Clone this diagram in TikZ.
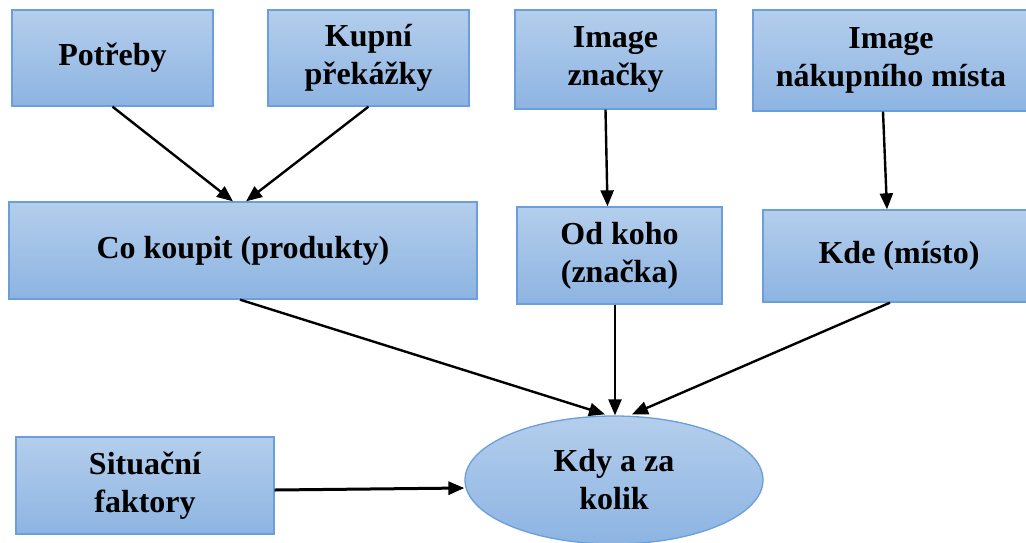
\documentclass[tikz,border=0pt]{standalone}
\usepackage{fontspec}
\setmainfont{Liberation Serif}
\usetikzlibrary{arrows.meta,shapes.geometric}
\definecolor{boxtop}{HTML}{B4CEEC}
\definecolor{boxbot}{HTML}{8DB4E2}
\definecolor{boxline}{HTML}{6A9FDB}
\tikzset{
  box/.style={draw=boxline, line width=1.3pt, top color=boxtop, bottom color=boxbot,
    align=center, inner sep=0pt, font=\fontsize{32}{38}\selectfont\bfseries},
  oval/.style={box, ellipse},
  conn/.style={line width=2.4pt, -{Triangle[length=16pt,width=13pt]}},
}
\begin{document}
\begin{tikzpicture}[x=1pt,y=-1pt]
\useasboundingbox (0,0) rectangle (1026,542);
\clip (0,0) rectangle (1026,542);
\node[box, minimum width=201pt, minimum height=96pt] (pot) at (112.5,58) {Potřeby};
\node[box, minimum width=201pt, minimum height=96pt] (kup) at (368.5,58) {Kupní\\překážky};
\node[box, minimum width=201pt, minimum height=99pt] (imz) at (615.5,59.5) {Image\\značky};
\node[box, minimum width=276pt, minimum height=101pt] (imn) at (891,60.5) {Image\\nákupního místa};
\node[box, minimum width=468pt, minimum height=97pt] (ck) at (243,250.5) {Co koupit (produkty)};
\node[box, minimum width=205pt, minimum height=97pt] (od) at (619.5,255.5) {Od koho\\(značka)};
\node[box, minimum width=272pt, minimum height=92pt] (kde) at (899,256) {\raisebox{8pt}{Kde (místo)}};
\node[box, minimum width=258pt, minimum height=97pt] (sit) at (145,485.5) {Situační\\faktory};
\node[oval, minimum width=298pt, minimum height=128pt] (kdy) at (614,480) {Kdy a za\\kolik};
\draw[conn] (pot.south) -- ([xshift=-10pt]ck.north);
\draw[conn] (kup.south) -- ([xshift=3pt]ck.north);
\draw[conn] ([xshift=-10pt]imz.south) -- ([xshift=-12pt]od.north);
\draw[conn] ([xshift=-8pt]imn.south) -- ([xshift=-12pt]kde.north);
\draw[conn] ([xshift=-3pt]ck.south) -- ([xshift=-9pt,yshift=1pt]kdy.north);
\draw[conn] ([xshift=-4.5pt]od.south) -- ([xshift=1pt]kdy.north);
\draw[conn] ([xshift=-9pt]kde.south) -- ([xshift=18pt,yshift=1pt]kdy.north);
\draw[conn, line width=3pt] ([yshift=-4.5pt]sit.east) -- ([yshift=-8pt]kdy.west);
\end{tikzpicture}
\end{document}
